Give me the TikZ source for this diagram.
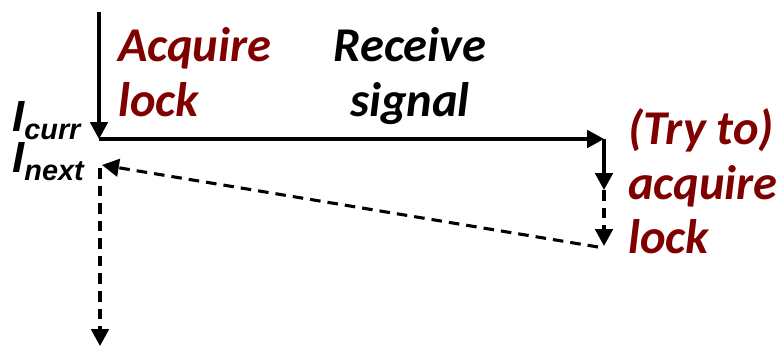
\documentclass[tikz,border=0pt]{standalone}
\usepackage{fontspec}
\setmainfont{Carlito}
\newfontfamily\instfont{Liberation Sans}
\usetikzlibrary{arrows.meta}
\definecolor{lockred}{RGB}{128,0,0}

\begin{document}
\begin{tikzpicture}[x=0.025cm, y=-0.025cm,
  every node/.style={font=\fontsize{34.5}{39}\selectfont\bfseries\itshape, inner sep=0pt},
  tag/.style={align=left, text=lockred},
  inst/.style={anchor=base west, font=\instfont\fontsize{31}{32}\selectfont\bfseries\itshape},
  flow/.style={-{Triangle[length=12pt, width=12.5pt]}, line width=2.2pt},
  back/.style={flow, dash pattern=on 7.5pt off 5pt}]
  \useasboundingbox (0,0) rectangle (776,348);

  % points on the handler timeline
  \coordinate (top)  at (99, 12);
  \coordinate (curr) at (99, 139);
  \coordinate (far)  at (604, 139);
  \coordinate (mid)  at (604, 190);
  \coordinate (low)  at (604, 246);
  \coordinate (from) at (598, 247);
  \coordinate (next) at (102, 165);
  \coordinate (down) at (100, 168);
  \coordinate (end)  at (100, 346);

  % labels
  \node[tag, anchor=north west] (acq) at (118, 27) {Acquire\\lock};
  \node[align=center, anchor=north] (sig) at (410, 27) {Receive\\signal};
  \node[tag, anchor=north west] (try) at (628, 108) {(Try to)\\acquire\\lock};
  \node[inst] (icurr) at (12, 131)
    {I\raisebox{-0.2cm}{\fontsize{20.5}{22}\selectfont curr}};
  \node[inst] (inext) at (12, 172)
    {I\raisebox{-0.2cm}{\fontsize{20.5}{22}\selectfont next}};

  % solid path
  \draw[flow] (top) -- (curr);
  \draw[flow] (curr) -- (far);
  \draw[flow] (far) -- (mid);

  % dashed path
  \draw[back] (mid) -- (low);
  \draw[back] (from) -- (next);
  \draw[back] (down) -- (end);
\end{tikzpicture}
\end{document}
